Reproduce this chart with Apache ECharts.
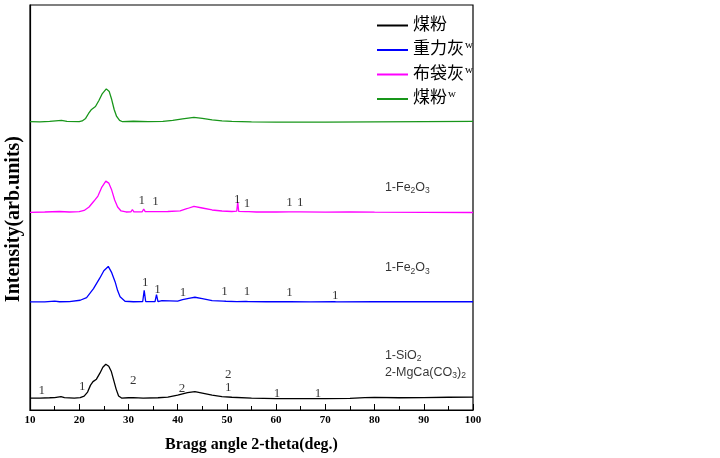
<!DOCTYPE html>
<html>
<head>
<meta charset="utf-8">
<script src="https://cdn.jsdelivr.net/npm/echarts@6/dist/echarts.min.js"></script>
<style>
  html, body { margin: 0; padding: 0; background: #fff; }
  #chart { width: 720px; height: 458px; }
</style>
</head>
<body>
<div id="chart"></div>
<script>
// XRD 衍射图 — 四条曲线上下错开排列（数值已含偏移量）
var seriesNames = ['煤粉', '重力灰w', '布袋灰w', '煤粉w'];
var seriesColors = ['#000000', '#0000ff', '#ff00ff', '#18961a'];
var xTicks = [10, 20, 30, 40, 50, 60, 70, 80, 90, 100];

var coalRaw = [
  [10, 12], [12, 12], [14, 12.3], [15, 12.5], [16.3, 13.5], [17, 12.5], [19, 12], [20.2, 12.5],
  [21, 14], [21.7, 18], [22.3, 25], [22.8, 28.5], [23.5, 31], [24.2, 37], [24.8, 43], [25.4, 46],
  [26, 44], [26.5, 39], [27, 30], [27.5, 21], [28, 14], [28.6, 12], [30, 12.3], [31, 12.5],
  [33, 12], [36, 12.3], [38, 13], [40, 15], [42, 17.5], [43.5, 18.5], [45, 17], [47, 15],
  [49, 13.5], [51, 12.8], [55, 12], [60, 11.5], [65, 11.5], [70, 11.5], [75, 11.7], [78, 12.5],
  [80, 12.7], [85, 12.3], [90, 12.5], [95, 12.8], [100, 13]
];
var gravityAsh = [
  [10, 108.7], [13, 108.7], [15, 109.5], [16, 108.8], [18, 109], [20.2, 110.3], [21.5, 113],
  [22.9, 122], [24.2, 132.7], [25, 140], [25.9, 144.3], [26.6, 138], [27.3, 128.7], [27.8, 120],
  [28.3, 113.7], [29.3, 109.3], [31, 108.8], [32.9, 109], [33.2, 120.3], [33.5, 109], [35.4, 109],
  [35.7, 116], [36, 109], [36.8, 110], [37.2, 109], [40, 109.5], [41, 111], [41.3, 110],
  [42.5, 112.5], [43.5, 113.3], [45, 112], [47, 110], [49.3, 109.5], [49.5, 111], [49.8, 109.3],
  [52, 109], [53.9, 109.2], [54.1, 110.8], [54.4, 109], [58, 108.8], [62.3, 108.8], [62.5, 110.5],
  [62.8, 108.8], [67, 108.7], [71.8, 108.8], [72, 110], [72.3, 108.7], [80, 108.8], [90, 108.8],
  [100, 108.8]
];
var bagAsh = [
  [10, 198.7], [13, 199], [16, 199.5], [18, 199], [20, 199.3], [21, 200.5], [22, 204], [23, 210],
  [23.8, 215], [24.6, 224], [25.4, 230], [26, 228], [26.6, 221], [27.2, 211], [27.8, 204],
  [28.5, 200], [29.5, 199], [30.5, 199.2], [30.8, 201.5], [31.1, 199.2], [32.8, 199.2], [33.1, 202],
  [33.4, 199.3], [35.3, 199.3], [35.6, 200.8], [35.9, 199.3], [38, 199.5], [40.5, 200.2], [42, 202.5],
  [43.3, 204.7], [45, 203], [47, 201], [49, 200], [51, 199.5], [52, 199.8], [52.2, 209], [52.4, 199.6],
  [53.8, 199.3], [54.1, 200.5], [54.4, 199.3], [56, 199], [60, 199], [62.6, 199.2], [62.8, 200],
  [63, 199.1], [64.8, 199.2], [65, 199.8], [65.2, 199], [70, 198.8], [75, 199], [80, 198.8],
  [90, 198.6], [100, 198.5]
];
var coalW = [
  [10, 289.7], [12, 289.5], [14, 290], [16.4, 291], [17.5, 290], [20, 289.7], [20.6, 290.5],
  [21.3, 293], [21.9, 298], [22.5, 302], [23.3, 305], [24, 311], [24.7, 318], [25.5, 322.7],
  [26.1, 320], [26.6, 312], [27.1, 302], [27.6, 295], [28.2, 291], [28.8, 289.7], [31, 290.2],
  [34, 289.8], [37, 290], [39, 291], [41, 292.5], [43.3, 294], [45, 293], [47, 291.5], [49, 290.5],
  [51, 290], [55, 289.5], [60, 289.3], [70, 289.3], [80, 289.5], [90, 289.7], [100, 290]
];

// 峰位标注: [2θ, 纵坐标, 文字]
var peakMarks = [
  [12.4, 19.3, '1'], [20.6, 23.7, '1'], [31.0, 29.3, '2'], [40.9, 22, '2'], [50.3, 35.3, '2'],
  [50.3, 22.7, '1'], [60.2, 17, '1'], [68.5, 17, '1'],
  [33.4, 127.7, '1'], [35.9, 121.3, '1'], [41.1, 118, '1'], [49.5, 118.7, '1'], [54.1, 118.7, '1'],
  [62.7, 118, '1'], [72.0, 115.3, '1'],
  [32.7, 210.3, '1'], [35.5, 209.7, '1'], [52.1, 211.3, '1'], [54.1, 207.7, '1'], [62.7, 208.7, '1'],
  [64.9, 208.7, '1']
];
// 物相说明
var phaseNotes = [
  [82.1, 55, '1-SiO{sub|2}'],
  [82.1, 38, '2-MgCa(CO{sub|3}){sub|2}'],
  [82.1, 224, '1-Fe{sub|2}O{sub|3}'],
  [82.1, 143, '1-Fe{sub|2}O{sub|3}']
];

var curves = [coalRaw, gravityAsh, bagAsh, coalW];
var chart = echarts.init(document.getElementById('chart'));

var series = curves.map(function (d, i) {
  return {
    name: seriesNames[i],
    type: 'line',
    data: d,
    symbol: 'none',
    lineStyle: { color: seriesColors[i], width: 1.3 },
    itemStyle: { color: seriesColors[i] },
    z: 3
  };
});
series.push({
  type: 'scatter',
  data: peakMarks,
  symbolSize: 0,
  silent: true,
  label: {
    show: true, position: 'inside', color: '#000',
    fontFamily: '"Liberation Serif", serif', fontSize: 13,
    formatter: function (p) { return p.value[2]; }
  },
  z: 5
});
series.push({
  type: 'scatter',
  data: phaseNotes,
  symbolSize: 0,
  silent: true,
  label: {
    show: true, position: 'right', distance: 0, color: '#000',
    fontFamily: '"Liberation Sans", Arial, sans-serif', fontSize: 12.5,
    formatter: function (p) { return p.value[2]; },
    rich: {
      sub: { fontFamily: '"Liberation Sans", Arial, sans-serif', fontSize: 8.5, verticalAlign: 'bottom', padding: [7, 0, 0, 0], color: '#000' }
    }
  },
  z: 5
});

chart.setOption({
  animation: false,
  backgroundColor: '#fff',
  grid: {
    left: 30, right: 247, top: 5, bottom: 46,
    show: true, borderColor: '#000', borderWidth: 1.2, backgroundColor: 'transparent'
  },
  legend: {
    data: seriesNames,
    orient: 'vertical',
    left: 372, top: 12,
    icon: 'rect', itemWidth: 31, itemHeight: 2, itemGap: 6,
    textStyle: {
      fontFamily: '"Liberation Serif", "Noto Sans CJK SC", serif', fontSize: 17, color: '#000',
      rich: {
        sup: { fontFamily: '"Liberation Serif", serif', fontSize: 11, verticalAlign: 'top', padding: [0, 0, 9, 1], color: '#000' }
      }
    },
    formatter: function (name) {
      return name.charAt(name.length - 1) === 'w' ? name.slice(0, -1) + '{sup|w}' : name;
    }
  },
  xAxis: {
    type: 'value', min: 10, max: 100, interval: 10,
    name: 'Bragg angle 2-theta(deg.)', nameLocation: 'middle', nameGap: 27,
    nameTextStyle: { fontFamily: '"Liberation Serif", serif', fontWeight: 'bold', fontSize: 16, color: '#000' },
    axisLine: { show: true, onZero: false, lineStyle: { color: '#000', width: 1.2 } },
    axisTick: { show: true, inside: true, length: 6, lineStyle: { color: '#000', width: 1 } },
    minorTick: { show: true, splitNumber: 2, length: 4, lineStyle: { color: '#000', width: 1 } },
    axisLabel: {
      fontFamily: '"Liberation Serif", serif', fontWeight: 'bold', fontSize: 11, color: '#000', margin: 5,
      formatter: function (v) { return xTicks.indexOf(v) >= 0 ? String(v) : ''; }
    },
    splitLine: { show: false }
  },
  yAxis: {
    type: 'value', min: 0, max: 407,
    axisLine: { show: true, lineStyle: { color: '#000', width: 1.2 } },
    axisTick: { show: false },
    axisLabel: { show: false },
    splitLine: { show: false }
  },
  graphic: [{
    type: 'text',
    left: 4, top: 136,
    rotation: Math.PI / 2,
    style: {
      text: 'Intensity(arb.units)',
      font: 'bold 20px "Liberation Serif", serif',
      fill: '#000'
    }
  }],
  series: series
});
</script>
</body>
</html>
